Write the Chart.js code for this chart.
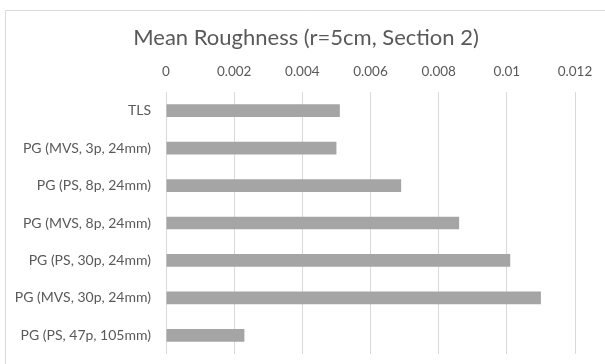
<!DOCTYPE html>
<html>
<head>
<meta charset="utf-8">
<script src="https://cdn.jsdelivr.net/npm/chart.js@4/dist/chart.umd.min.js"></script>
<style>
  html, body { margin: 0; padding: 0; background: #ffffff; }
  #wrap { width: 605px; height: 364px; position: relative; }
</style>
</head>
<body>
<div id="wrap"><canvas id="chart" width="605" height="364"></canvas></div>
<script>
const categories = [
  'TLS',
  'PG (MVS, 3p, 24mm)',
  'PG (PS, 8p, 24mm)',
  'PG (MVS, 8p, 24mm)',
  'PG (PS, 30p, 24mm)',
  'PG (MVS, 30p, 24mm)',
  'PG (PS, 47p, 105mm)'
];
const meanRoughness = [0.0051, 0.0050, 0.0069, 0.0086, 0.0101, 0.0110, 0.0023];
const tickValues = [0, 0.002, 0.004, 0.006, 0.008, 0.01, 0.012];

const FONT = 'Lato, "Open Sans", sans-serif';
const TEXT = '#595959';

// light frame around the chart, open on the right and bottom
const framePlugin = {
  id: 'frame',
  beforeDraw(chart) {
    const c = chart.ctx;
    c.save();
    c.strokeStyle = '#d9d9d9';
    c.lineWidth = 1;
    c.beginPath();
    c.moveTo(5.5, 400);
    c.lineTo(5.5, 10.5);
    c.lineTo(700, 10.5);
    c.stroke();
    c.restore();
  }
};

new Chart(document.getElementById('chart'), {
  type: 'bar',
  data: {
    labels: categories,
    datasets: [{
      data: meanRoughness,
      backgroundColor: '#a5a5a5',
      borderWidth: 0,
      categoryPercentage: 1,
      barPercentage: 0.34
    }]
  },
  plugins: [framePlugin],
  options: {
    indexAxis: 'y',
    responsive: false,
    animation: false,
    layout: { padding: { left: 7, right: 0, top: 0, bottom: 10 } },
    plugins: {
      legend: { display: false },
      tooltip: { enabled: false },
      title: {
        display: true,
        text: 'Mean Roughness (r=5cm, Section 2)',
        color: TEXT,
        font: { family: FONT, size: 22, weight: 'normal' },
        padding: { top: 25, bottom: 4 }
      }
    },
    scales: {
      x: {
        position: 'top',
        min: 0,
        max: 0.012,
        afterBuildTicks(scale) {
          scale.ticks = tickValues.map(v => ({ value: v }));
        },
        afterFit(scale) {
          scale.height = 92 - 55.4;
          scale.paddingLeft = 0;
          scale.paddingRight = 30;
        },
        ticks: {
          color: TEXT,
          font: { family: FONT, size: 13.5 },
          padding: 12,
          callback: v => String(+v.toFixed(4))
        },
        grid: { color: '#d9d9d9', lineWidth: 1, drawTicks: false },
        border: { display: false }
      },
      y: {
        afterFit(scale) {
          scale.width = 159;
          scale.paddingTop = 0;
          scale.paddingBottom = 0;
        },
        ticks: {
          color: TEXT,
          font: { family: FONT, size: 14 },
          padding: 15
        },
        grid: { display: false, drawTicks: false },
        border: { display: false }
      }
    }
  }
});
</script>
</body>
</html>
